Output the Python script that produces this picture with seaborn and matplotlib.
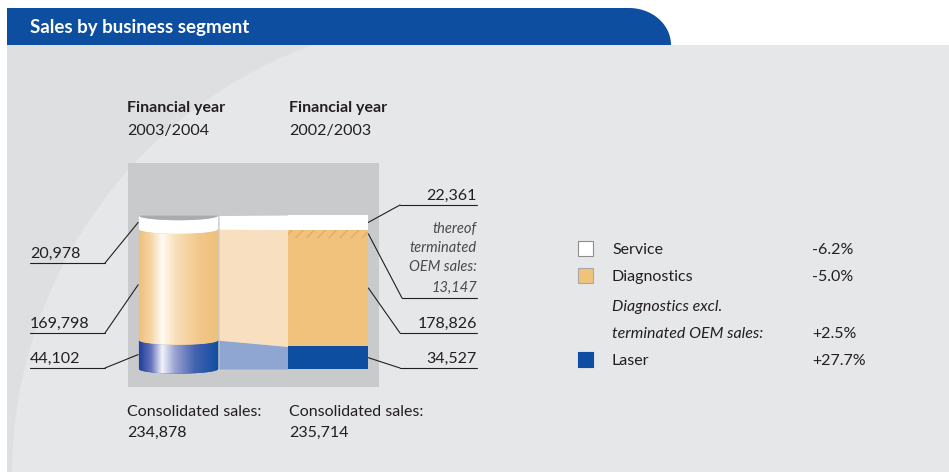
import numpy as np
import matplotlib
matplotlib.use("Agg")
import matplotlib.pyplot as plt
import seaborn as sns
from matplotlib.patches import Polygon, Rectangle
from matplotlib.colors import LinearSegmentedColormap

# ---- data (kEUR) ----
years = ["2003/2004", "2002/2003"]
segments = ["Laser", "Diagnostics", "Service"]
sales_0304 = [44102, 169798, 20978]
sales_0203 = [34527, 178826, 22361]
oem_terminated_0203 = 13147
consolidated = [234878, 235714]
legend_segments = ["Service", "Diagnostics", "Laser"]
legend_growth = ["-6.2%", "-5.0%", "+27.7%"]
growth_diag_excl_oem = "+2.5%"

BLUE = "#0d4ea0"
ORANGE = "#f0c27b"
TXT = "#231f20"
seg_colors = {"Laser": BLUE, "Diagnostics": ORANGE, "Service": "#ffffff"}
fade_colors = {"Laser": "#8fa6d2", "Diagnostics": "#f8dfc0", "Service": "#ffffff"}
cyl_grad = {
    "Laser": LinearSegmentedColormap.from_list("laser", [
        (0, "#223d98"), (0.15, "#6373bb"), (0.29, "#f2f3fb"), (0.45, "#9aa2d2"),
        (0.7, "#4463b0"), (1, "#0f4c9f")]),
    "Diagnostics": LinearSegmentedColormap.from_list("diag", [
        (0, "#efbf7a"), (0.15, "#f6d6a6"), (0.29, "#fffbf3"), (0.45, "#f9e0bb"),
        (0.75, "#f2c88b"), (1, "#efc07b")]),
}

sns.set_style("white")
plt.rcParams["font.family"] = ["Lato", "DejaVu Sans"]
plt.rcParams["hatch.linewidth"] = 0.8

W, H = 949, 472
fig = plt.figure(figsize=(W / 100, H / 100), dpi=100)
fig.patch.set_facecolor("white")

# background layer in pixel coordinates
bg = fig.add_axes([0, 0, 1, 1])
bg.set_xlim(0, W)
bg.set_ylim(H, 0)
bg.axis("off")

bg.add_patch(Rectangle((7, 45), W - 7, H - 45, color="#e6e7e9", lw=0))
cx, cy, R = 470, 475, 458
th = np.radians(np.linspace(-110.2, -180.5, 80))
arc = np.column_stack([cx + R * np.cos(th), cy + R * np.sin(th)])
bg.add_patch(Polygon(np.vstack([[7, 45], arc, [7, H]]), closed=True,
                     color="#dedfe1", lw=0))

# header band with rounded corner
t = np.radians(np.linspace(90, 0, 30))
rx, ry = 42, 37
corner = np.column_stack([671 - rx + rx * np.cos(t), 45 - ry * np.sin(t)])
bg.add_patch(Polygon(np.vstack([[7, 8], corner, [671, 45], [7, 45]]),
                     closed=True, color=BLUE, lw=0))
bg.text(30, 27, "Sales by business segment", color="white", fontsize=13.5,
        fontweight="bold", va="center")

# ---- chart axes ----
ax = fig.add_axes([128 / W, 1 - 387 / H, (379 - 128) / W, (387 - 163) / H])
ax.set_facecolor("#c9cacc")
ymax = max(consolidated)
bw = 0.53
dep = 0.03 * ymax

# cylinder for 2003/2004
xs = np.linspace(-bw / 2, bw / 2, 90)
s = np.sqrt(np.clip(1 - (xs / (bw / 2)) ** 2, 0, 1))
cum_a = np.concatenate([[0], np.cumsum(sales_0304)])
for i, seg in enumerate(segments):
    lo, hi = cum_a[i], cum_a[i + 1]
    pts = np.vstack([np.column_stack([xs, lo - dep * s]),
                     np.column_stack([xs[::-1], hi - dep * s[::-1]])])
    poly = Polygon(pts, closed=True, facecolor=seg_colors[seg], lw=0, zorder=2)
    ax.add_patch(poly)
    if seg in cyl_grad:
        img = ax.imshow(np.linspace(0, 1, 256)[None, :], cmap=cyl_grad[seg],
                        extent=[-bw / 2, bw / 2, lo - dep, hi], aspect="auto",
                        interpolation="bilinear", zorder=2.1)
        img.set_clip_path(poly)
top = cum_a[-1]
cap = np.vstack([np.column_stack([xs, np.full_like(xs, top)]),
                 np.column_stack([xs[::-1], top - dep * s[::-1]])])
ax.add_patch(Polygon(cap, closed=True, facecolor="#a9abae", lw=0, zorder=2.2))

# transition bands between the years
cum_b = np.concatenate([[0], np.cumsum(sales_0203)])
tx = [bw / 2 + 0.006, 1 - bw / 2 - 0.006]
for i, seg in enumerate(segments):
    ax.fill_between(tx, [cum_a[i], cum_b[i]], [cum_a[i + 1], cum_b[i + 1]],
                    color=fade_colors[seg], lw=0, zorder=1.5)

# stacked bar for 2002/2003
for i, seg in enumerate(segments):
    sns.barplot(x=[1], y=[sales_0203[i]], bottom=cum_b[i], native_scale=True,
                width=bw, color=seg_colors[seg], saturation=1, errorbar=None,
                linewidth=0, ax=ax, zorder=2)
diag_top = cum_b[2]
sns.barplot(x=[1], y=[oem_terminated_0203], bottom=diag_top - oem_terminated_0203,
            native_scale=True, width=bw, color=ORANGE, saturation=1, errorbar=None,
            hatch="///", edgecolor="#e2a95c", linewidth=0, ax=ax, zorder=2.3)

ax.set_xlim(-0.338, 1.341)
ax.set_ylim(-0.117 * ymax, 1.338 * ymax)
ax.set_xticks([])
ax.set_yticks([])
ax.set_xlabel("")
ax.set_ylabel("")
sns.despine(ax=ax, left=True, bottom=True)


def leader(xy, under_y, x_join, x_end):
    bg.plot([x_join, x_end], [under_y, under_y], color=TXT, lw=0.8)
    ax.annotate("", xy=xy, xycoords="data", xytext=(x_join, under_y),
                textcoords=bg.transData,
                arrowprops=dict(arrowstyle="-", color=TXT, lw=0.8,
                                shrinkA=0, shrinkB=0))


FS = 11.5
# left labels (2003/2004)
left_rows = {"Service": 263, "Diagnostics": 333, "Laser": 368}
for i, seg in enumerate(segments):
    uy = left_rows[seg]
    mid = (cum_a[i] + cum_a[i + 1]) / 2
    leader((-bw / 2 - 0.005, mid), uy, 105, 30)
    bg.text(30, uy - 5, f"{sales_0304[i]:,}", fontsize=FS, color=TXT, va="baseline")

# right labels (2002/2003)
right_rows = {"Service": 205, "Diagnostics": 333, "Laser": 368}
for i, seg in enumerate(segments):
    uy = right_rows[seg]
    mid = (cum_b[i] + cum_b[i + 1]) / 2
    leader((1 + bw / 2 + 0.005, mid), uy, 400, 477)
    bg.text(477, uy - 5, f"{sales_0203[i]:,}", fontsize=FS, color=TXT,
            va="baseline", ha="right")
leader((1 + bw / 2 + 0.005, diag_top - oem_terminated_0203 / 2), 298, 402, 477)
for txt, by in zip(["thereof", "terminated", "OEM sales:", f"{oem_terminated_0203:,}"],
                   [233, 252, 271, 292]):
    bg.text(477, by, txt, fontsize=10.5, style="italic", color="#4a4a4a",
            va="baseline", ha="right")

# year headers and totals
for x0, yr, tot in zip([127, 289], years, consolidated):
    bg.text(x0, 112, "Financial year", fontsize=FS, fontweight="bold", color=TXT,
            va="baseline")
    bg.text(x0, 135, yr, fontsize=FS, color=TXT, va="baseline")
    bg.text(x0, 416, "Consolidated sales:", fontsize=FS, color=TXT, va="baseline")
    bg.text(x0, 437, f"{tot:,}", fontsize=FS, color=TXT, va="baseline")

# legend
leg_rows = [248, 275, 359]
edge = {"Service": "#8c8c8c", "Diagnostics": "#a8a8a8", "Laser": BLUE}
for seg, g, yc in zip(legend_segments, legend_growth, leg_rows):
    bg.add_patch(Rectangle((578, yc - 7.5), 15, 15, facecolor=seg_colors[seg],
                           edgecolor=edge[seg], lw=0.8))
    bg.text(612, yc + 6, seg, fontsize=FS, color=TXT, va="baseline")
    bg.text(812, yc + 6, g, fontsize=FS, color=TXT, va="baseline")
bg.text(612, 311, "Diagnostics excl.", fontsize=FS, style="italic", color=TXT,
        va="baseline")
bg.text(612, 338, "terminated OEM sales:", fontsize=FS, style="italic", color=TXT,
        va="baseline")
bg.text(812, 338, growth_diag_excl_oem, fontsize=FS, color=TXT, va="baseline")

fig.savefig("out.png", dpi=100)
